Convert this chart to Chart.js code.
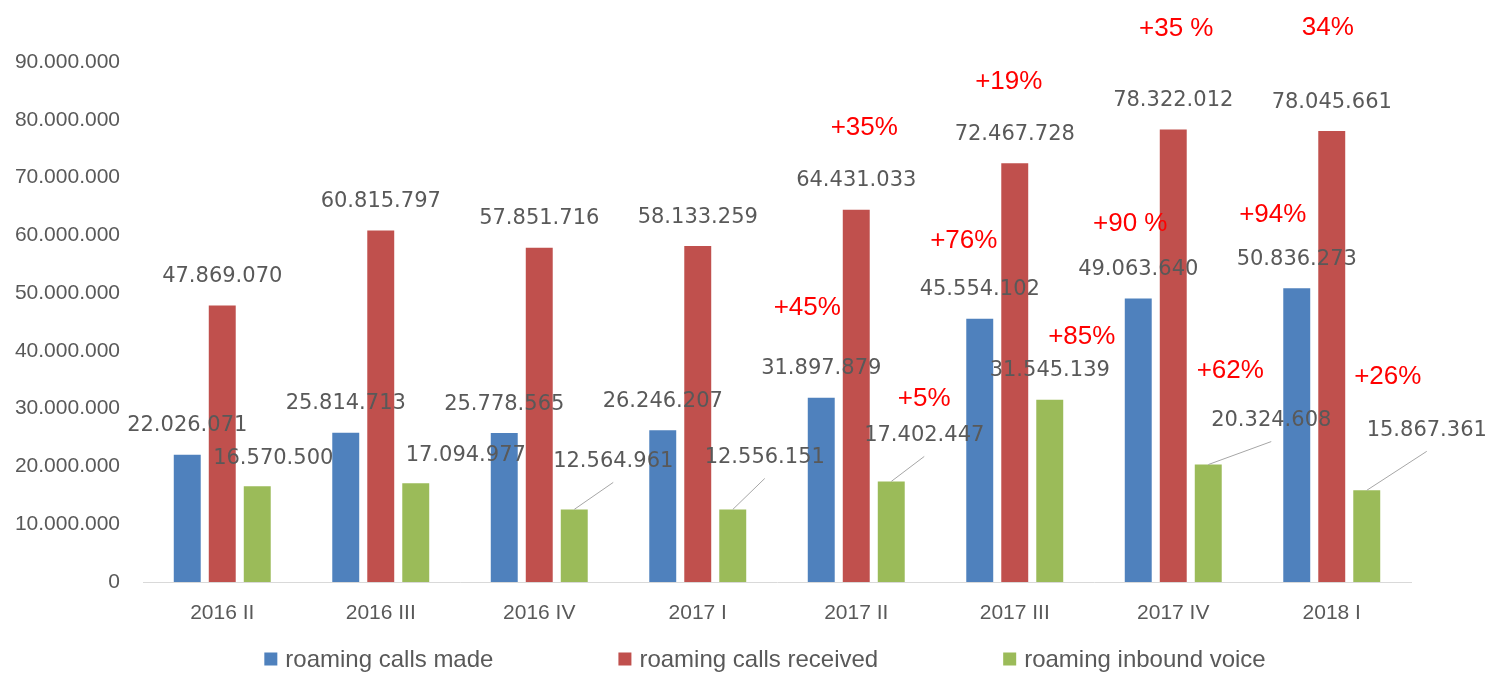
<!DOCTYPE html>
<html>
<head>
<meta charset="utf-8">
<script src="https://cdn.jsdelivr.net/npm/chart.js@4/dist/chart.umd.min.js"></script>
<style>
  html, body { margin: 0; background: #fff; }
  #wrap { width: 1486px; height: 673px; }
</style>
</head>
<body>
<div id="wrap"><canvas id="roaming"></canvas></div>
<script>
const quarters = ["2016 II", "2016 III", "2016 IV", "2017 I", "2017 II", "2017 III", "2017 IV", "2018 I"];
const callsMade = [22026071, 25814713, 25778565, 26246207, 31897879, 45554102, 49063640, 50836273];
const callsReceived = [47869070, 60815797, 57851716, 58133259, 64431033, 72467728, 78322012, 78045661];
const inboundVoice = [16570500, 17094977, 12564961, 12556151, 17402447, 31545139, 20324608, 15867361];

// growth notes written on the chart (year on year)
const growthMade = [null, null, null, null, "+45%", "+76%", "+90 %", "+94%"];
const growthReceived = [null, null, null, null, "+35%", "+19%", "+35 %", "34%"];
const growthInbound = [null, null, null, null, "+5%", "+85%", "+62%", "+26%"];

const yTicks = [0, 10000000, 20000000, 30000000, 40000000, 50000000, 60000000, 70000000, 80000000, 90000000];

// label placement (px from bar top centre), inbound labels were dragged aside in the original
const inboundShift = [[16, -28, false], [50, -28, false], [39, -48, true], [32, -52, true],
                      [33, -46, true], [0, -29, false], [63, -44, true], [60, -60, true]];
// growth note offsets, px from the value label centre, per dataset
const growthShift = [
  [null, null, null, null, [-14, -61], [-16, -49], [-8, -46], [-24, -44]],
  [null, null, null, null, [8, -53], [-6, -52], [3, -72], [-4, -74]],
  [null, null, null, null, [0, -37], [32, -34], [-41, -50], [-39, -53]]
];

const BLUE = "#4f81bd", RED = "#c0504d", GREEN = "#9bbb59", GREY = "#595959";
const SANS = "'Liberation Sans', Arial, sans-serif";

function dotted(v) {
  return String(Math.round(v)).replace(/\B(?=(\d{3})+(?!\d))/g, ".");
}

const labelPlugin = {
  id: "valueLabels",
  afterDatasetsDraw(chart) {
    const ctx = chart.ctx;
    const notes = [growthMade, growthReceived, growthInbound];
    ctx.save();
    ctx.textAlign = "center";
    ctx.textBaseline = "middle";
    chart.data.datasets.forEach((ds, i) => {
      const meta = chart.getDatasetMeta(i);
      meta.data.forEach((bar, j) => {
        let dx = 0, dy = -29, leader = false;
        if (i === 2) [dx, dy, leader] = inboundShift[j];
        const lx = bar.x + dx, ly = bar.y + dy;
        if (leader) {
          ctx.strokeStyle = "#a6a6a6";
          ctx.lineWidth = 1;
          ctx.beginPath();
          ctx.moveTo(bar.x, bar.y);
          ctx.lineTo(lx, ly + 21);
          ctx.stroke();
        }
        ctx.fillStyle = GREY;
        ctx.font = "21px 'DejaVu Sans', Verdana, sans-serif";
        ctx.fillText(dotted(ds.data[j]), lx, ly);
        const note = notes[i][j];
        if (note) {
          const off = growthShift[i][j];
          ctx.fillStyle = "#ff0000";
          ctx.font = "26px " + SANS;
          ctx.fillText(note, lx + off[0], ly + off[1]);
        }
      });
    });
    ctx.restore();
  },
  afterDraw(chart) {
    // legend row under the axis
    const ctx = chart.ctx;
    ctx.save();
    ctx.font = "24px " + SANS;
    ctx.textBaseline = "middle";
    ctx.textAlign = "left";
    const box = 13, gap = 8, spacing = 125, y = 659;
    const items = chart.data.datasets.map(ds => ({ text: ds.label, color: ds.backgroundColor }));
    const widths = items.map(it => box + gap + ctx.measureText(it.text).width);
    const total = widths.reduce((a, b) => a + b, 0) + spacing * (items.length - 1);
    let x = 765 - total / 2;
    items.forEach((it, k) => {
      ctx.fillStyle = it.color;
      ctx.fillRect(x, y - box / 2, box, box);
      ctx.fillStyle = GREY;
      ctx.fillText(it.text, x + box + gap, y + 1);
      x += widths[k] + spacing;
    });
    ctx.restore();
  }
};

new Chart(document.getElementById("roaming"), {
  type: "bar",
  data: {
    labels: quarters,
    datasets: [
      { label: "roaming calls made", data: callsMade, backgroundColor: BLUE },
      { label: "roaming calls received", data: callsReceived, backgroundColor: RED },
      { label: "roaming inbound voice", data: inboundVoice, backgroundColor: GREEN }
    ]
  },
  options: {
    responsive: true,
    maintainAspectRatio: false,
    animation: false,
    devicePixelRatio: 1,
    categoryPercentage: 0.6625,
    barPercentage: 0.77,
    layout: { padding: { left: 14, right: 75, top: 62, bottom: 41 } },
    plugins: { legend: { display: false }, tooltip: { enabled: false } },
    scales: {
      x: {
        grid: { display: false, drawTicks: false },
        border: { color: "#d9d9d9", width: 1 },
        ticks: { color: GREY, font: { family: SANS, size: 21 }, padding: 19 },
        afterFit(s) { s.height = 50; }
      },
      y: {
        min: 0,
        max: 90000000,
        grid: { display: false, drawTicks: false },
        border: { display: false },
        afterBuildTicks(s) { s.ticks = yTicks.map(v => ({ value: v })); },
        ticks: { color: GREY, font: { family: SANS, size: 21 }, padding: 23, callback: v => dotted(v) },
        afterFit(s) { s.width = 129; }
      }
    }
  },
  plugins: [labelPlugin]
});
</script>
</body>
</html>
